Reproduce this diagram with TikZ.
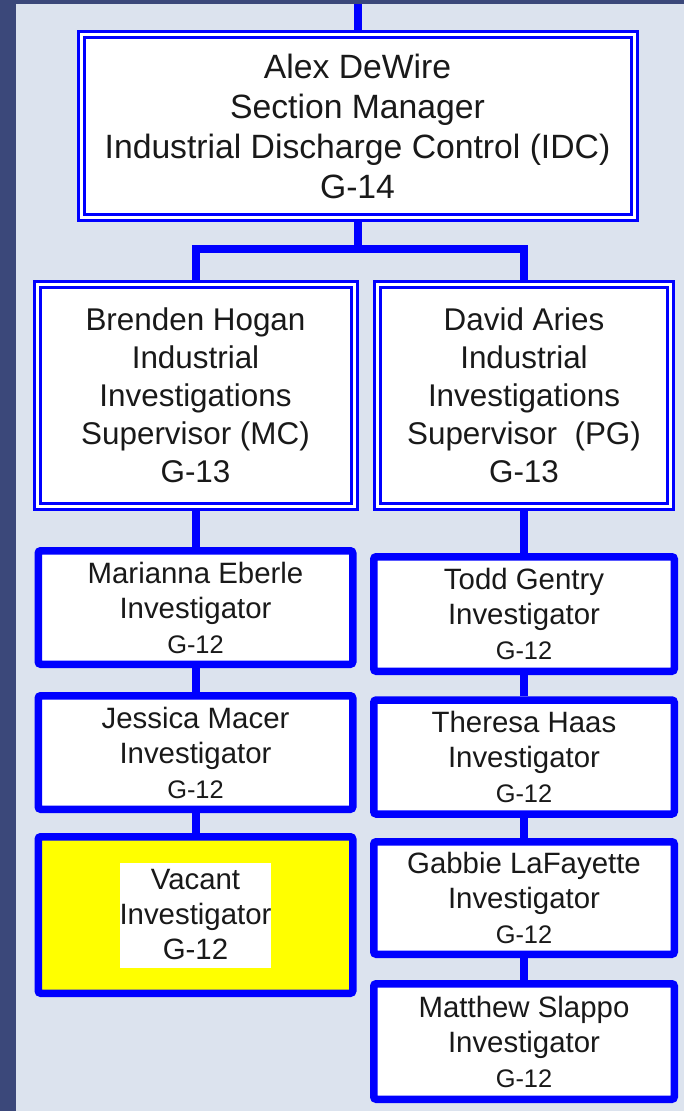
\documentclass[tikz,border=0pt]{standalone}
\usepackage{fontspec}
\setmainfont{Liberation Sans}

\definecolor{chartblue}{RGB}{0,0,255}
\definecolor{pagepale}{RGB}{220,227,238}
\definecolor{pagedark}{RGB}{59,72,122}
\definecolor{vacyellow}{RGB}{255,255,0}
\definecolor{inkgray}{RGB}{25,25,25}

\newcommand{\headfont}{\fontsize{33.7}{40}\selectfont}
\newcommand{\supfont}{\fontsize{31.4}{38}\selectfont}
\newcommand{\stafffont}{\fontsize{29.4}{35}\selectfont}
\newcommand{\gradefont}{\fontsize{25.4}{35}\selectfont}

\tikzset{
  headbox/.style={draw=chartblue,double=white,double distance=3pt,line width=3pt,
    fill=white,align=center,text=inkgray,inner sep=0pt,outer sep=4.5pt},
  staffbox/.style={draw=chartblue,line width=7.5pt,rounded corners=2.5pt,fill=white,
    align=center,text=inkgray,font=\stafffont,inner sep=0pt},
  vacantlabel/.style={fill=white,inner xsep=0pt,inner ysep=0pt,minimum height=105pt,
    align=center,text=inkgray,font=\stafffont},
  link/.style={draw=chartblue,line width=8pt,line join=miter}
}

\begin{document}
\begin{tikzpicture}[x=1pt,y=-1pt]
\useasboundingbox (0,0) rectangle (684,1111);
\fill[pagepale] (0,0) rectangle (684,1111);
\fill[pagedark] (0,0) rectangle (16,1111);
\fill[pagedark] (0,0) rectangle (684,4);

% manager
\node[headbox,font=\headfont,minimum width=553pt,minimum height=183pt] (idc) at (357.5,126)
  {Alex DeWire\\Section Manager\\Industrial Discharge Control (IDC)\\G-14};

% supervisors
\node[headbox,font=\supfont,minimum width=317pt,minimum height=222pt] (mc) at (195.5,395.5)
  {Brenden Hogan\\Industrial\\Investigations\\Supervisor (MC)\\G-13};
\node[headbox,font=\supfont,minimum width=293pt,minimum height=222pt] (pg) at (524,395.5)
  {David Aries\\Industrial\\Investigations\\Supervisor\ \ (PG)\\G-13};

% MC investigators
\node[staffbox,minimum width=314.5pt,minimum height=113.5pt] (mae) at (195.5,607.5)
  {Marianna Eberle\\Investigator\\{\gradefont G-12}};
\node[staffbox,minimum width=314.5pt,minimum height=113.5pt] (jma) at (195.5,752.5)
  {Jessica Macer\\Investigator\\{\gradefont G-12}};
\node[staffbox,fill=vacyellow,minimum width=314.5pt,minimum height=156.5pt] (vac) at (195.5,915) {};
\node[vacantlabel] (vaclbl) at (vac.center) {Vacant\\Investigator\\G-12};

% PG investigators
\node[staffbox,minimum width=300.5pt,minimum height=114.5pt] (tge) at (524,614)
  {Todd Gentry\\Investigator\\{\gradefont G-12}};
\node[staffbox,minimum width=300.5pt,minimum height=114pt] (tha) at (524,757)
  {Theresa Haas\\Investigator\\{\gradefont G-12}};
\node[staffbox,minimum width=300.5pt,minimum height=112.5pt] (gla) at (524,898)
  {Gabbie LaFayette\\Investigator\\{\gradefont G-12}};
\node[staffbox,minimum width=300.5pt,minimum height=115.5pt] (msl) at (524,1041.5)
  {Matthew Slappo\\Investigator\\{\gradefont G-12}};

% connectors
\coordinate (feed) at (357.5,4);
\coordinate (split) at (357.5,249);
\draw[link] (feed) -- (idc.north);
\draw[link] (idc.south) -- (split);
\draw[link] (mc.north) |- (split) -| (pg.north);
\draw[link] (mc.south) -- (mae.north);
\draw[link] (mae.south) -- (jma.north);
\draw[link] (jma.south) -- (vac.north);
\draw[link] (pg.south) -- (tge.north);
\draw[link] (tge.south) -- (tha.north);
\draw[link] (tha.south) -- (gla.north);
\draw[link] (gla.south) -- (msl.north);

\end{tikzpicture}
\end{document}
